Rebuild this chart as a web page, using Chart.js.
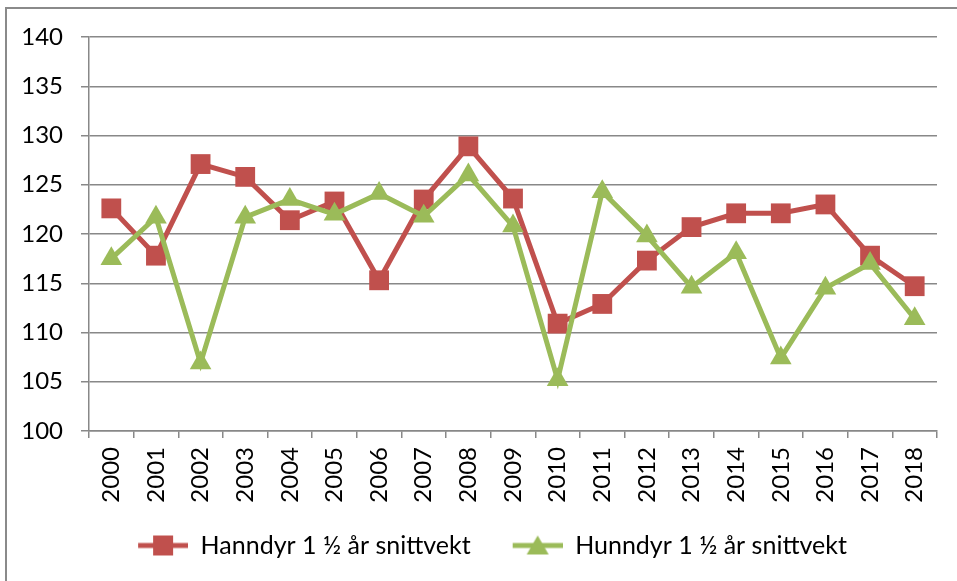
<!DOCTYPE html>
<html>
<head>
<meta charset="utf-8">
<script src="https://cdn.jsdelivr.net/npm/chart.js@4/dist/chart.umd.min.js"></script>
<style>
  html, body { margin: 0; padding: 0; background: #fff; overflow: hidden; }
  #frame { position: absolute; left: 5px; top: 7px; width: 1000px; height: 700px; border: 2px solid #8a8a8a; }
  #wrap { position: absolute; left: 0; top: 0; width: 957px; height: 581px; }
</style>
</head>
<body>
<div id="frame"></div>
<div id="wrap"><canvas id="chart" width="957" height="581"></canvas></div>
<script>
const years = ['2000', '2001', '2002', '2003', '2004', '2005', '2006', '2007', '2008', '2009',
               '2010', '2011', '2012', '2013', '2014', '2015', '2016', '2017', '2018'];
const hanndyr = [122.6, 117.8, 127.1, 125.8, 121.4, 123.3, 115.3, 123.5, 128.9, 123.6,
                 110.9, 112.9, 117.3, 120.7, 122.1, 122.1, 123.0, 117.8, 114.7];
const hunndyr = [117.5, 121.7, 106.9, 121.7, 123.5, 122.0, 124.1, 121.8, 126.0, 120.8,
                 105.2, 124.3, 119.8, 114.6, 118.1, 107.4, 114.5, 117.0, 111.4];
const seriesNames = ['Hanndyr 1 ½ år snittvekt', 'Hunndyr 1 ½ år snittvekt'];
const yMin = 100, yMax = 140, yStep = 5;

const red = '#C0504D';
const green = '#9BBB59';
const gridColor = '#888888';
const family = 'Lato, "Liberation Sans", sans-serif';
const axisFont = { family: family, size: 24 };
const legendFont = { family: family, size: 25 };

// legend icon: line with the marker in the middle, blank space on the left
const iconGap = 32;
function makeIcon(color, shape) {
  const c = document.createElement('canvas');
  c.width = 50 + iconGap; c.height = 24;
  const g = c.getContext('2d');
  g.strokeStyle = color;
  g.lineWidth = 5;
  g.beginPath(); g.moveTo(iconGap, 12); g.lineTo(iconGap + 50, 12); g.stroke();
  g.fillStyle = color;
  if (shape === 'rect') {
    g.fillRect(iconGap + 15, 2, 20, 20);
  } else {
    g.beginPath();
    g.moveTo(iconGap + 25, 2); g.lineTo(iconGap + 36, 21); g.lineTo(iconGap + 14, 21);
    g.closePath(); g.fill();
  }
  return c;
}
const icons = [makeIcon(red, 'rect'), makeIcon(green, 'triangle')];

new Chart(document.getElementById('chart'), {
  type: 'line',
  data: {
    labels: years,
    datasets: [
      {
        label: seriesNames[0],
        data: hanndyr,
        borderColor: red,
        backgroundColor: red,
        borderWidth: 5,
        pointStyle: 'rect',
        pointRadius: 14,
        pointHoverRadius: 14,
        pointBorderWidth: 0,
        order: 1
      },
      {
        label: seriesNames[1],
        data: hunndyr,
        borderColor: green,
        backgroundColor: green,
        borderWidth: 5,
        pointStyle: 'triangle',
        pointRadius: 12.5,
        pointHoverRadius: 12.5,
        pointBorderWidth: 0,
        order: 0
      }
    ]
  },
  options: {
    responsive: false,
    animation: false,
    layout: { autoPadding: false, padding: { left: 16, right: 20, top: 37, bottom: 13 } },
    plugins: {
      tooltip: { enabled: false },
      legend: {
        position: 'bottom',
        labels: {
          usePointStyle: true,
          pointStyleWidth: 50 + iconGap,
          padding: 10,
          color: '#000',
          font: legendFont,
          generateLabels: chart => chart.data.datasets.map((ds, i) => ({
            text: ds.label,
            pointStyle: icons[i],
            datasetIndex: i,
            fontColor: '#000',
            lineWidth: 0
          }))
        }
      }
    },
    scales: {
      x: {
        offset: true,
        grid: { offset: true, drawOnChartArea: false, tickLength: 7, color: gridColor, lineWidth: 1.5 },
        border: { display: true, color: gridColor, width: 1.5 },
        ticks: { color: '#000', font: axisFont, maxRotation: 90, minRotation: 90, padding: 9, autoSkip: false },
        afterFit: s => { s.height = 92; }
      },
      y: {
        min: yMin,
        max: yMax,
        grid: { color: gridColor, lineWidth: 1.5, tickLength: 8 },
        border: { display: true, color: gridColor, width: 1.5 },
        ticks: { stepSize: yStep, color: '#000', font: axisFont, padding: 18 },
        afterFit: s => { s.width = 73; }
      }
    }
  }
});
</script>
</body>
</html>
